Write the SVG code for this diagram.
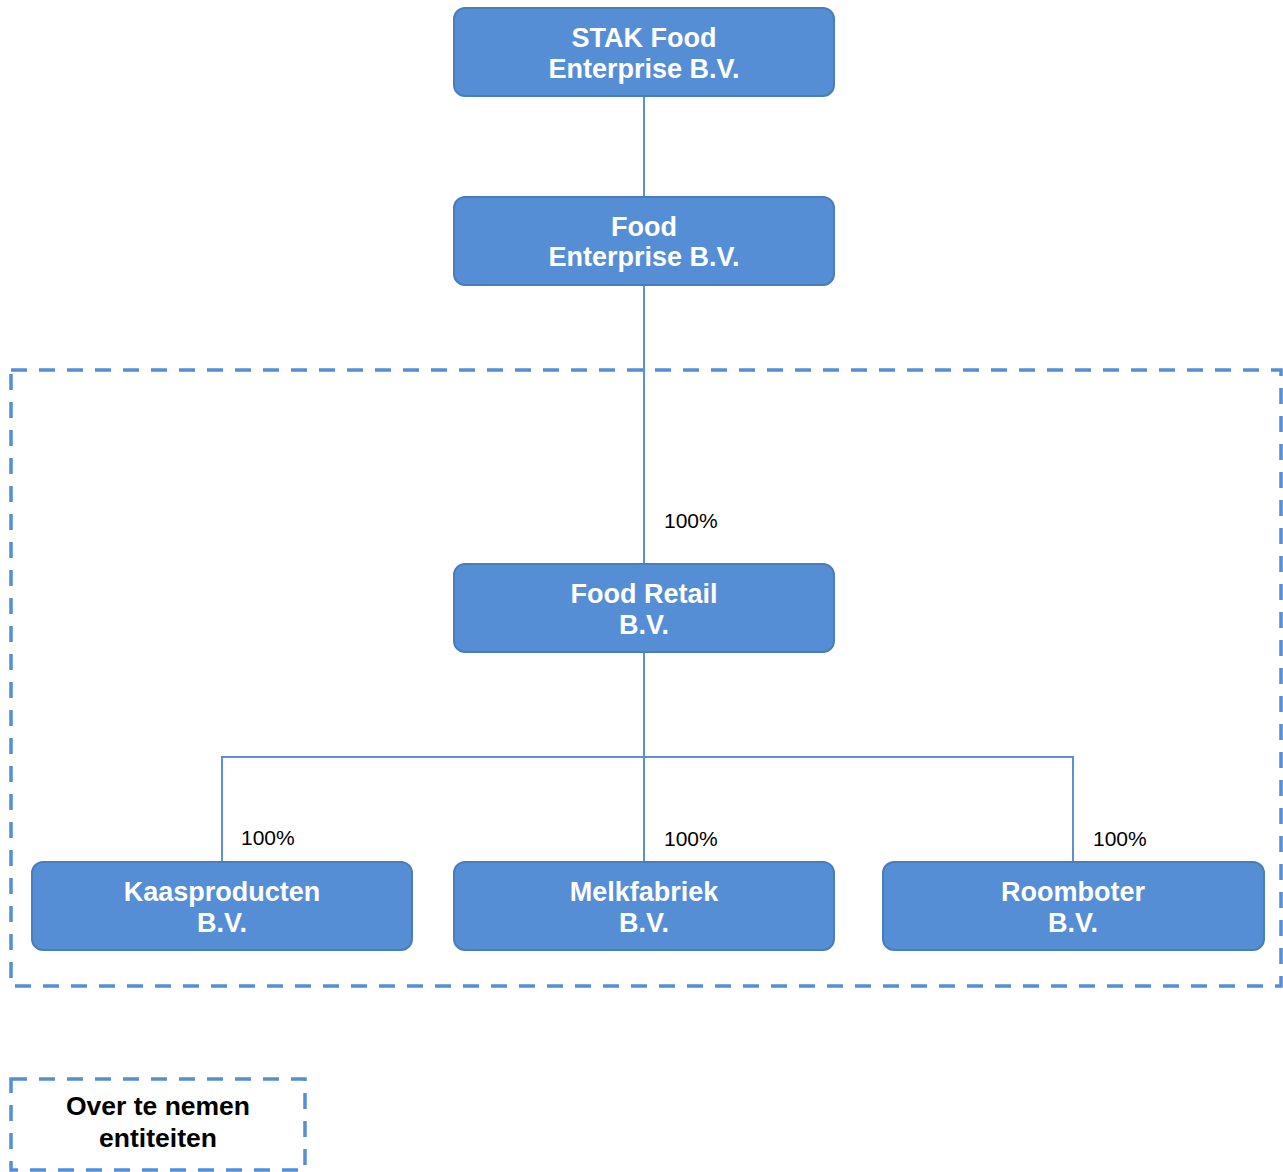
<svg xmlns="http://www.w3.org/2000/svg" width="1283" height="1172" viewBox="0 0 1283 1172">
<style>
.node rect{fill:#558ED5;stroke:#4A7EBB;stroke-width:2}
.node text{fill:#FFFFFF;font-family:"Liberation Sans",Arial,sans-serif;font-weight:bold;font-size:27px;text-anchor:middle}
.conn{fill:none;stroke:#5B8FD6;stroke-width:2}
.pct{fill:#000;font-family:"Liberation Sans",Arial,sans-serif;font-size:21px}
.dash{fill:none;stroke:#558ED5;stroke-width:3.5;stroke-dasharray:16 12}
.legend text{fill:#000;font-family:"Liberation Sans",Arial,sans-serif;font-weight:bold;font-size:26.5px;text-anchor:middle}
</style>
<rect width="1283" height="1172" fill="#FFFFFF"/>
<rect id="scope" class="dash" x="11" y="370" width="1270" height="616"/>
<g id="connectors">
<path class="conn" d="M644 96V197"/>
<path class="conn" d="M644 285V564"/>
<path class="conn" d="M644 652V862"/>
<path class="conn" d="M222 862V757H1073V862"/>
<text class="pct" x="664" y="528">100%</text>
<text class="pct" x="241" y="845">100%</text>
<text class="pct" x="664" y="846">100%</text>
<text class="pct" x="1093" y="846">100%</text>
</g>
<g id="stak" class="node"><rect x="454" y="8" width="380" height="88" rx="11"/><text x="644" y="47">STAK Food</text><text x="644" y="78">Enterprise B.V.</text></g>
<g id="food" class="node"><rect x="454" y="197" width="380" height="88" rx="11"/><text x="644" y="236">Food</text><text x="644" y="266">Enterprise B.V.</text></g>
<g id="retail" class="node"><rect x="454" y="564" width="380" height="88" rx="11"/><text x="644" y="603">Food Retail</text><text x="644" y="634">B.V.</text></g>
<g id="kaas" class="node"><rect x="32" y="862" width="380" height="88" rx="11"/><text x="222" y="901">Kaasproducten</text><text x="222" y="932">B.V.</text></g>
<g id="melk" class="node"><rect x="454" y="862" width="380" height="88" rx="11"/><text x="644" y="901">Melkfabriek</text><text x="644" y="932">B.V.</text></g>
<g id="room" class="node"><rect x="883" y="862" width="381" height="88" rx="11"/><text x="1073" y="901">Roomboter</text><text x="1073" y="932">B.V.</text></g>
<g id="legend" class="legend"><rect class="dash" x="11" y="1079" width="294" height="91"/><text x="158" y="1115">Over te nemen</text><text x="158" y="1147">entiteiten</text></g>
</svg>
